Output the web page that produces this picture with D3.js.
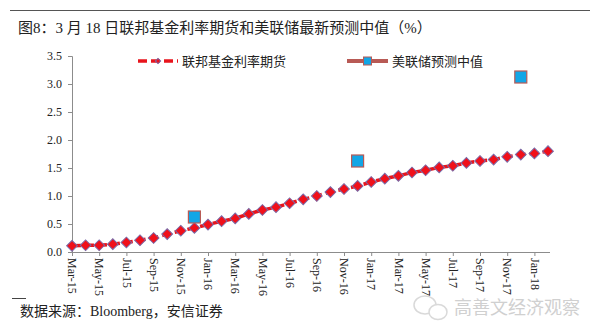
<!DOCTYPE html>
<html><head><meta charset="utf-8">
<script src="https://cdn.jsdelivr.net/npm/d3@7"></script>
<style>body{margin:0;background:#fff}svg{display:block}</style>
</head><body><svg id="c" width="600" height="334"></svg>
<script>
const months = ["Mar-15","Apr-15","May-15","Jun-15","Jul-15","Aug-15","Sep-15","Oct-15","Nov-15","Dec-15","Jan-16","Feb-16",
"Mar-16","Apr-16","May-16","Jun-16","Jul-16","Aug-16","Sep-16","Oct-16","Nov-16","Dec-16","Jan-17","Feb-17",
"Mar-17","Apr-17","May-17","Jun-17","Jul-17","Aug-17","Sep-17","Oct-17","Nov-17","Dec-17","Jan-18","Feb-18"];
const futures = [0.11,0.12,0.12,0.14,0.17,0.21,0.25,0.32,0.38,0.43,0.49,0.55,
0.60,0.68,0.75,0.80,0.87,0.94,1.00,1.07,1.125,1.18,1.25,1.31,
1.36,1.42,1.46,1.51,1.54,1.59,1.625,1.65,1.70,1.74,1.76,1.80];
const fedMonths = ["Dec-15","Dec-16","Dec-17"];
const fedMedian = [0.625,1.625,3.125];
const yTicks = [0,0.5,1.0,1.5,2.0,2.5,3.0,3.5];
const xTickLabels = months.filter((m,i)=>i%2===0);
const seriesNames = ["联邦基金利率期货","美联储预测中值"];
const title = "图8：3 月 18 日联邦基金利率期货和美联储最新预测中值（%）";
const source = "数据来源：Bloomberg，安信证券";
const watermark = "高善文经济观察";

const svg = d3.select("#c");
const x = d3.scalePoint().domain(months).range([72,548]);
const y = d3.scaleLinear().domain([0,3.5]).range([252,56]);
const serif = "'Liberation Serif','DejaVu Serif',serif";
const mixed = "'Liberation Serif','Noto Sans CJK SC',serif";
const cjk = "'Noto Sans CJK SC',sans-serif";
const axisCol = "#8c8c8c";

// top rule
svg.append("line").attr("x1",10).attr("x2",590).attr("y1",10.5).attr("y2",10.5).attr("stroke","#555").attr("stroke-width",1);
svg.append("text").attr("x",18).attr("y",33).attr("font-family",mixed).attr("font-size",15).attr("fill","#222").text(title);

// y axis
const ya = svg.append("g").attr("transform","translate(72,0)")
  .call(d3.axisLeft(y).tickValues(yTicks).tickFormat(d3.format(".1f")).tickSize(4).tickPadding(6));
ya.attr("font-family",serif);
ya.select(".domain").attr("stroke",axisCol);
ya.selectAll(".tick line").attr("stroke",axisCol);
ya.selectAll("text").style("font-family",serif).attr("font-size",12).attr("fill","#222");

// x axis
const xa = svg.append("g").attr("transform","translate(0,252)")
  .call(d3.axisBottom(x).tickValues(xTickLabels).tickSize(4).tickSizeOuter(0));
xa.attr("font-family",serif);
xa.select(".domain").attr("stroke",axisCol).attr("d","M72,0.5H550");
xa.selectAll(".tick line").attr("stroke",axisCol);
xa.selectAll("text").style("font-family",serif).attr("font-size",12).attr("fill","#222")
  .attr("transform","rotate(90)").attr("text-anchor","start").attr("x",6).attr("y",0).attr("dy","0.35em");

// futures line
const line = d3.line().x((d,i)=>x(months[i])).y(d=>y(d));
svg.append("path").datum(futures).attr("d",line).attr("fill","none")
  .attr("stroke","#e8141c").attr("stroke-width",3.5).attr("stroke-dasharray","9,4");
svg.append("g").selectAll("path").data(futures).join("path")
  .attr("d",d3.symbol().type(d3.symbolSquare).size(58))
  .attr("transform",(d,i)=>`translate(${x(months[i])},${y(d)}) rotate(45)`)
  .attr("fill","#f0101a").attr("stroke","#7a6aa8").attr("stroke-width",1);

// fed median squares
svg.append("g").selectAll("rect").data(fedMedian).join("rect")
  .attr("x",(d,i)=>x(fedMonths[i])-6).attr("y",d=>y(d)-6).attr("width",12).attr("height",12)
  .attr("fill","#12a6e6").attr("stroke","#b85a55").attr("stroke-width",1.2);

// legend
const lg = svg.append("g");
lg.append("line").attr("x1",138).attr("x2",178).attr("y1",61).attr("y2",61)
  .attr("stroke","#e8141c").attr("stroke-width",3.5).attr("stroke-dasharray","9,4");
lg.append("path").attr("d",d3.symbol().type(d3.symbolSquare).size(14)).attr("transform","translate(158,61) rotate(45)")
  .attr("fill","#f0101a").attr("stroke","#7a6aa8").attr("stroke-width",1);
lg.append("text").attr("x",182).attr("y",66).attr("font-family",cjk).attr("font-size",13).attr("fill","#222").text(seriesNames[0]);
lg.append("line").attr("x1",347).attr("x2",388).attr("y1",61).attr("y2",61)
  .attr("stroke","#b85a55").attr("stroke-width",4);
lg.append("rect").attr("x",363.5).attr("y",57).attr("width",8).attr("height",8)
  .attr("fill","#12a6e6").attr("stroke","#b85a55").attr("stroke-width",1);
lg.append("text").attr("x",392).attr("y",66).attr("font-family",cjk).attr("font-size",13).attr("fill","#222").text(seriesNames[1]);

// source
svg.append("line").attr("x1",12).attr("x2",26).attr("y1",298.5).attr("y2",298.5).attr("stroke","#444");
svg.append("text").attr("x",20).attr("y",316).attr("font-family",mixed).attr("font-size",14).attr("fill","#222").text(source);

// watermark
const wm = svg.append("g").attr("opacity",0.55);
wm.append("ellipse").attr("cx",425).attr("cy",305).attr("rx",11).attr("ry",9).attr("fill","none").attr("stroke","#bbb").attr("stroke-width",1.5);
wm.append("ellipse").attr("cx",438).attr("cy",312).attr("rx",9).attr("ry",7.5).attr("fill","#fff").attr("stroke","#bbb").attr("stroke-width",1.5);
wm.append("text").attr("x",454).attr("y",314).attr("font-family",cjk).attr("font-size",18).attr("fill","#aaa").text(watermark);
</script></body></html>
